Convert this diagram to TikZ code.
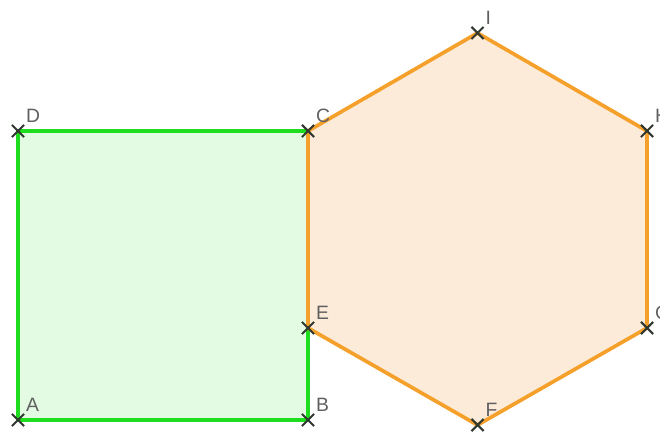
\documentclass[tikz,border=0pt]{standalone}
\usepackage{fontspec}
\setsansfont{Liberation Sans}
\usepackage{xcolor}
\definecolor{cGreen}{HTML}{1EDC1E}
\definecolor{cGreenFill}{HTML}{E2FBE2}
\definecolor{cOrange}{HTML}{F5A02A}
\definecolor{cOrangeFill}{HTML}{FDEBDA}
\definecolor{cGray}{HTML}{606060}
\definecolor{cCross}{HTML}{303830}
\usetikzlibrary{shapes.misc,backgrounds}
\tikzset{
  poly-square/.style={draw=cGreen,line width=2.1pt,fill=cGreenFill,line join=round},
  poly-hex/.style={draw=cOrange,line width=2.1pt,fill=cOrangeFill,line join=round},
  pt/.style={cross out,draw=cCross,line width=1.2pt,minimum size=2mm,inner sep=0pt},
  pt-label/.style={font=\sffamily\fontsize{11}{13}\selectfont,text=cGray,inner sep=1pt},
}

\begin{document}
\begin{tikzpicture}
  \useasboundingbox (0,0) rectangle (13.2,8.78);
  % points
  \node[pt,label={[pt-label]above right:A}] (A) at (0.36,0.38) {};
  \node[pt,label={[pt-label]above right:B}] (B) at (6.16,0.38) {};
  \node[pt,label={[pt-label]above right:C}] (C) at (6.16,6.16) {};
  \node[pt,label={[pt-label]above right:D}] (D) at (0.36,6.16) {};
  \node[pt,label={[pt-label]above right:E}] (E) at (6.16,2.22) {};
  \node[pt,label={[pt-label]above right:F}] (F) at (9.55,0.28) {};
  \node[pt,label={[pt-label]above right:G}] (G) at (12.94,2.22) {};
  \node[pt,label={[pt-label]above right:H}] (H) at (12.94,6.16) {};
  \node[pt,label={[pt-label]above right:I}] (I) at (9.55,8.12) {};
  % polygons
  \begin{scope}[on background layer]
    \draw[poly-square] (A.center) -- (B.center) -- (C.center) -- (D.center) -- cycle;
    \draw[poly-hex] (C.center) -- (I.center) -- (H.center) -- (G.center)
      -- (F.center) -- (E.center) -- cycle;
  \end{scope}
\end{tikzpicture}
\end{document}
